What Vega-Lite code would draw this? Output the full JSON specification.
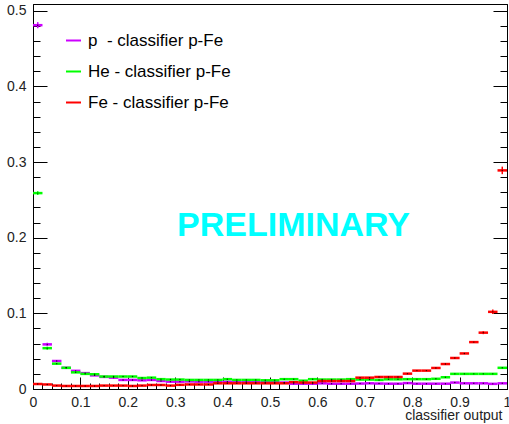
{
  "$schema": "https://vega.github.io/schema/vega-lite/v6.json",
  "width": 474,
  "height": 385,
  "autosize": {"type": "none"},
  "padding": {"left": 33, "top": 4, "right": 2, "bottom": 35},
  "background": "white",
  "config": {
    "view": {"stroke": "#000", "strokeWidth": 1},
    "axis": {"grid": false, "domainColor": "#000", "tickColor": "#000", "labelFont": "Liberation Sans", "labelFontSize": 14, "labelColor": "#222", "titleFont": "Liberation Sans", "titleFontWeight": "normal", "titleColor": "#222", "labelOverlap": false, "labelFlush": false},
    "legend": {"labelFont": "Liberation Sans", "labelFontSize": 17, "labelColor": "#000"}
  },
  "datasets": {
    "hist": [
      {"s":"p","a":0,"b":0.02,"v":0.481},{"s":"p","a":0.02,"b":0.04,"v":0.059},{"s":"p","a":0.04,"b":0.06,"v":0.037},{"s":"p","a":0.06,"b":0.08,"v":0.028},{"s":"p","a":0.08,"b":0.1,"v":0.024},
      {"s":"p","a":0.1,"b":0.12,"v":0.021},{"s":"p","a":0.12,"b":0.14,"v":0.018},{"s":"p","a":0.14,"b":0.16,"v":0.016},{"s":"p","a":0.16,"b":0.18,"v":0.015},{"s":"p","a":0.18,"b":0.2,"v":0.012},
      {"s":"p","a":0.2,"b":0.22,"v":0.012},{"s":"p","a":0.22,"b":0.24,"v":0.0115},{"s":"p","a":0.24,"b":0.26,"v":0.012},{"s":"p","a":0.26,"b":0.28,"v":0.0106},{"s":"p","a":0.28,"b":0.3,"v":0.0097},
      {"s":"p","a":0.3,"b":0.32,"v":0.0097},{"s":"p","a":0.32,"b":0.34,"v":0.01},{"s":"p","a":0.34,"b":0.36,"v":0.0097},{"s":"p","a":0.36,"b":0.38,"v":0.0097},{"s":"p","a":0.38,"b":0.4,"v":0.0097},
      {"s":"p","a":0.4,"b":0.42,"v":0.0095},{"s":"p","a":0.42,"b":0.44,"v":0.0097},{"s":"p","a":0.44,"b":0.46,"v":0.0093},{"s":"p","a":0.46,"b":0.48,"v":0.009},{"s":"p","a":0.48,"b":0.5,"v":0.009},
      {"s":"p","a":0.5,"b":0.52,"v":0.009},{"s":"p","a":0.52,"b":0.54,"v":0.0085},{"s":"p","a":0.54,"b":0.56,"v":0.007},{"s":"p","a":0.56,"b":0.58,"v":0.007},{"s":"p","a":0.58,"b":0.6,"v":0.007},
      {"s":"p","a":0.6,"b":0.62,"v":0.0075},{"s":"p","a":0.62,"b":0.64,"v":0.007},{"s":"p","a":0.64,"b":0.66,"v":0.007},{"s":"p","a":0.66,"b":0.68,"v":0.007},{"s":"p","a":0.68,"b":0.7,"v":0.0072},
      {"s":"p","a":0.7,"b":0.72,"v":0.0075},{"s":"p","a":0.72,"b":0.74,"v":0.0072},{"s":"p","a":0.74,"b":0.76,"v":0.007},{"s":"p","a":0.76,"b":0.78,"v":0.007},{"s":"p","a":0.78,"b":0.8,"v":0.0078},
      {"s":"p","a":0.8,"b":0.82,"v":0.007},{"s":"p","a":0.82,"b":0.84,"v":0.007},{"s":"p","a":0.84,"b":0.86,"v":0.007},{"s":"p","a":0.86,"b":0.88,"v":0.007},{"s":"p","a":0.88,"b":0.9,"v":0.0085},
      {"s":"p","a":0.9,"b":0.92,"v":0.0075},{"s":"p","a":0.92,"b":0.94,"v":0.0075},{"s":"p","a":0.94,"b":0.96,"v":0.0075},{"s":"p","a":0.96,"b":0.98,"v":0.0068},{"s":"p","a":0.98,"b":1,"v":0.0075},

      {"s":"He","a":0,"b":0.02,"v":0.259},{"s":"He","a":0.02,"b":0.04,"v":0.054},{"s":"He","a":0.04,"b":0.06,"v":0.0335},{"s":"He","a":0.06,"b":0.08,"v":0.028},{"s":"He","a":0.08,"b":0.1,"v":0.022},
      {"s":"He","a":0.1,"b":0.12,"v":0.02},{"s":"He","a":0.12,"b":0.14,"v":0.0195},{"s":"He","a":0.14,"b":0.16,"v":0.0165},{"s":"He","a":0.16,"b":0.18,"v":0.0165},{"s":"He","a":0.18,"b":0.2,"v":0.0165},
      {"s":"He","a":0.2,"b":0.22,"v":0.0165},{"s":"He","a":0.22,"b":0.24,"v":0.0145},{"s":"He","a":0.24,"b":0.26,"v":0.015},{"s":"He","a":0.26,"b":0.28,"v":0.013},{"s":"He","a":0.28,"b":0.3,"v":0.0125},
      {"s":"He","a":0.3,"b":0.32,"v":0.0125},{"s":"He","a":0.32,"b":0.34,"v":0.012},{"s":"He","a":0.34,"b":0.36,"v":0.012},{"s":"He","a":0.36,"b":0.38,"v":0.012},{"s":"He","a":0.38,"b":0.4,"v":0.012},
      {"s":"He","a":0.4,"b":0.42,"v":0.013},{"s":"He","a":0.42,"b":0.44,"v":0.012},{"s":"He","a":0.44,"b":0.46,"v":0.012},{"s":"He","a":0.46,"b":0.48,"v":0.012},{"s":"He","a":0.48,"b":0.5,"v":0.0115},
      {"s":"He","a":0.5,"b":0.52,"v":0.0115},{"s":"He","a":0.52,"b":0.54,"v":0.013},{"s":"He","a":0.54,"b":0.56,"v":0.013},{"s":"He","a":0.56,"b":0.58,"v":0.011},{"s":"He","a":0.58,"b":0.6,"v":0.013},
      {"s":"He","a":0.6,"b":0.62,"v":0.0125},{"s":"He","a":0.62,"b":0.64,"v":0.0125},{"s":"He","a":0.64,"b":0.66,"v":0.0125},{"s":"He","a":0.66,"b":0.68,"v":0.013},{"s":"He","a":0.68,"b":0.7,"v":0.0125},
      {"s":"He","a":0.7,"b":0.72,"v":0.0125},{"s":"He","a":0.72,"b":0.74,"v":0.012},{"s":"He","a":0.74,"b":0.76,"v":0.0128},{"s":"He","a":0.76,"b":0.78,"v":0.0128},{"s":"He","a":0.78,"b":0.8,"v":0.013},
      {"s":"He","a":0.8,"b":0.82,"v":0.013},{"s":"He","a":0.82,"b":0.84,"v":0.013},{"s":"He","a":0.84,"b":0.86,"v":0.0135},{"s":"He","a":0.86,"b":0.88,"v":0.0155},{"s":"He","a":0.88,"b":0.9,"v":0.02},
      {"s":"He","a":0.9,"b":0.92,"v":0.02},{"s":"He","a":0.92,"b":0.94,"v":0.02},{"s":"He","a":0.94,"b":0.96,"v":0.02},{"s":"He","a":0.96,"b":0.98,"v":0.02},{"s":"He","a":0.98,"b":1,"v":0.028},

      {"s":"Fe","a":0,"b":0.02,"v":0.0066},{"s":"Fe","a":0.02,"b":0.04,"v":0.006},{"s":"Fe","a":0.04,"b":0.06,"v":0.0045},{"s":"Fe","a":0.06,"b":0.08,"v":0.004},{"s":"Fe","a":0.08,"b":0.1,"v":0.004},
      {"s":"Fe","a":0.1,"b":0.12,"v":0.004},{"s":"Fe","a":0.12,"b":0.14,"v":0.004},{"s":"Fe","a":0.14,"b":0.16,"v":0.0045},{"s":"Fe","a":0.16,"b":0.18,"v":0.0045},{"s":"Fe","a":0.18,"b":0.2,"v":0.0045},
      {"s":"Fe","a":0.2,"b":0.22,"v":0.004},{"s":"Fe","a":0.22,"b":0.24,"v":0.0045},{"s":"Fe","a":0.24,"b":0.26,"v":0.0053},{"s":"Fe","a":0.26,"b":0.28,"v":0.0053},{"s":"Fe","a":0.28,"b":0.3,"v":0.0045},
      {"s":"Fe","a":0.3,"b":0.32,"v":0.0055},{"s":"Fe","a":0.32,"b":0.34,"v":0.006},{"s":"Fe","a":0.34,"b":0.36,"v":0.006},{"s":"Fe","a":0.36,"b":0.38,"v":0.006},{"s":"Fe","a":0.38,"b":0.4,"v":0.0075},
      {"s":"Fe","a":0.4,"b":0.42,"v":0.0075},{"s":"Fe","a":0.42,"b":0.44,"v":0.0075},{"s":"Fe","a":0.44,"b":0.46,"v":0.0075},{"s":"Fe","a":0.46,"b":0.48,"v":0.0075},{"s":"Fe","a":0.48,"b":0.5,"v":0.0075},
      {"s":"Fe","a":0.5,"b":0.52,"v":0.0075},{"s":"Fe","a":0.52,"b":0.54,"v":0.0075},{"s":"Fe","a":0.54,"b":0.56,"v":0.009},{"s":"Fe","a":0.56,"b":0.58,"v":0.0085},{"s":"Fe","a":0.58,"b":0.6,"v":0.0085},
      {"s":"Fe","a":0.6,"b":0.62,"v":0.0105},{"s":"Fe","a":0.62,"b":0.64,"v":0.0105},{"s":"Fe","a":0.64,"b":0.66,"v":0.0105},{"s":"Fe","a":0.66,"b":0.68,"v":0.0105},{"s":"Fe","a":0.68,"b":0.7,"v":0.015},
      {"s":"Fe","a":0.7,"b":0.72,"v":0.015},{"s":"Fe","a":0.72,"b":0.74,"v":0.0159},{"s":"Fe","a":0.74,"b":0.76,"v":0.0159},{"s":"Fe","a":0.76,"b":0.78,"v":0.0159},{"s":"Fe","a":0.78,"b":0.8,"v":0.0203},
      {"s":"Fe","a":0.8,"b":0.82,"v":0.0243},{"s":"Fe","a":0.82,"b":0.84,"v":0.0243},{"s":"Fe","a":0.84,"b":0.86,"v":0.0278},{"s":"Fe","a":0.86,"b":0.88,"v":0.033},{"s":"Fe","a":0.88,"b":0.9,"v":0.041},
      {"s":"Fe","a":0.9,"b":0.92,"v":0.047},{"s":"Fe","a":0.92,"b":0.94,"v":0.062},{"s":"Fe","a":0.94,"b":0.96,"v":0.0745},{"s":"Fe","a":0.96,"b":0.98,"v":0.102},{"s":"Fe","a":0.98,"b":1,"v":0.289}
    ],
    "errs": [
      {"s":"p","a":0,"lo":0.477,"hi":0.485},
      {"s":"He","a":0,"lo":0.2565,"hi":0.2615},
      {"s":"p","a":0.02,"lo":0.057,"hi":0.061},
      {"s":"He","a":0.02,"lo":0.052,"hi":0.056},
      {"s":"Fe","a":0.94,"lo":0.0725,"hi":0.0765},
      {"s":"Fe","a":0.96,"lo":0.099,"hi":0.105},
      {"s":"Fe","a":0.98,"lo":0.284,"hi":0.294}
    ],
    "label": [
      {"t":"PRELIMINARY","x":0.5496,"y":0.215}
    ]
  },
  "resolve": {"axis": {"x": "independent", "y": "independent"}},
  "layer": [
    {
      "data": {"name": "hist"},
      "mark": {"type": "rule", "strokeWidth": 2.5},
      "encoding": {
        "x": {
          "field": "a", "type": "quantitative",
          "scale": {"domain": [0, 1], "nice": false, "zero": false},
          "axis": {
            "orient": "bottom",
            "values": [0,0.1,0.2,0.3,0.4,0.5,0.6,0.7,0.8,0.9,1],
            "format": "~g",
            "tickSize": -12,
            "labelPadding": 18,
            "title": "classifier output",
            "titleFontSize": 14,
            "titleAnchor": "end",
            "titleAlign": "right",
            "titleBaseline": "alphabetic",
            "titleX": 469,
            "titleY": 30
          }
        },
        "x2": {"field": "b"},
        "y": {
          "field": "v", "type": "quantitative",
          "scale": {"domain": [0, 0.509], "nice": false, "zero": false},
          "axis": {
            "orient": "left",
            "values": [0,0.1,0.2,0.3,0.4,0.5],
            "format": "~g",
            "tickSize": -14,
            "labelPadding": 21,
            "title": null
          }
        },
        "color": {
          "field": "s", "type": "nominal",
          "scale": {"domain": ["p", "He", "Fe"], "range": ["#cc00ff", "#00ff00", "#ff0000"]},
          "legend": {
            "title": null,
            "orient": "none",
            "legendX": 32,
            "legendY": 28,
            "direction": "vertical",
            "symbolType": "stroke",
            "symbolSize": 225,
            "symbolStrokeWidth": 2,
            "labelOffset": 6,
            "rowPadding": 13,
            "padding": 0,
            "labelExpr": "datum.label == 'p' ? 'p\u00a0 - classifier p-Fe' : datum.label + ' - classifier p-Fe'"
          }
        }
      }
    },
    {
      "data": {"name": "errs"},
      "mark": {"type": "rule", "strokeWidth": 1.5, "xOffset": 4.74},
      "encoding": {
        "x": {
          "field": "a", "type": "quantitative",
          "axis": {
            "orient": "bottom",
            "values": [0,0.02,0.04,0.06,0.08,0.1,0.12,0.14,0.16,0.18,0.2,0.22,0.24,0.26,0.28,0.3,0.32,0.34,0.36,0.38,0.4,0.42,0.44,0.46,0.48,0.5,0.52,0.54,0.56,0.58,0.6,0.62,0.64,0.66,0.68,0.7,0.72,0.74,0.76,0.78,0.8,0.82,0.84,0.86,0.88,0.9,0.92,0.94,0.96,0.98,1],
            "labels": false,
            "tickSize": -6,
            "title": null
          }
        },
        "y": {
          "field": "lo", "type": "quantitative",
          "axis": {
            "orient": "right",
            "values": [0,0.1,0.2,0.3,0.4,0.5],
            "labels": false,
            "tickSize": -14,
            "title": null
          }
        },
        "y2": {"field": "hi"},
        "color": {"field": "s", "type": "nominal", "legend": null}
      }
    },
    {
      "data": {"name": "hist"},
      "mark": {"type": "point", "filled": true, "size": 2, "color": "#000", "opacity": 0.8, "xOffset": 4.74},
      "encoding": {
        "x": {"field": "a", "type": "quantitative", "axis": null},
        "y": {
          "field": "v", "type": "quantitative",
          "axis": {
            "orient": "left",
            "values": [0,0.02,0.04,0.06,0.08,0.1,0.12,0.14,0.16,0.18,0.2,0.22,0.24,0.26,0.28,0.3,0.32,0.34,0.36,0.38,0.4,0.42,0.44,0.46,0.48,0.5],
            "labels": false,
            "tickSize": -7,
            "title": null
          }
        }
      }
    },
    {
      "data": {"name": "label"},
      "mark": {"type": "text", "font": "Liberation Sans", "fontWeight": "bold", "fontSize": 34, "color": "#00ffff", "align": "center", "baseline": "middle"},
      "encoding": {
        "x": {"field": "x", "type": "quantitative", "axis": null},
        "y": {
          "field": "y", "type": "quantitative",
          "axis": {
            "orient": "right",
            "values": [0,0.02,0.04,0.06,0.08,0.1,0.12,0.14,0.16,0.18,0.2,0.22,0.24,0.26,0.28,0.3,0.32,0.34,0.36,0.38,0.4,0.42,0.44,0.46,0.48,0.5],
            "labels": false,
            "tickSize": -7,
            "title": null
          }
        },
        "text": {"field": "t"}
      }
    }
  ]
}
